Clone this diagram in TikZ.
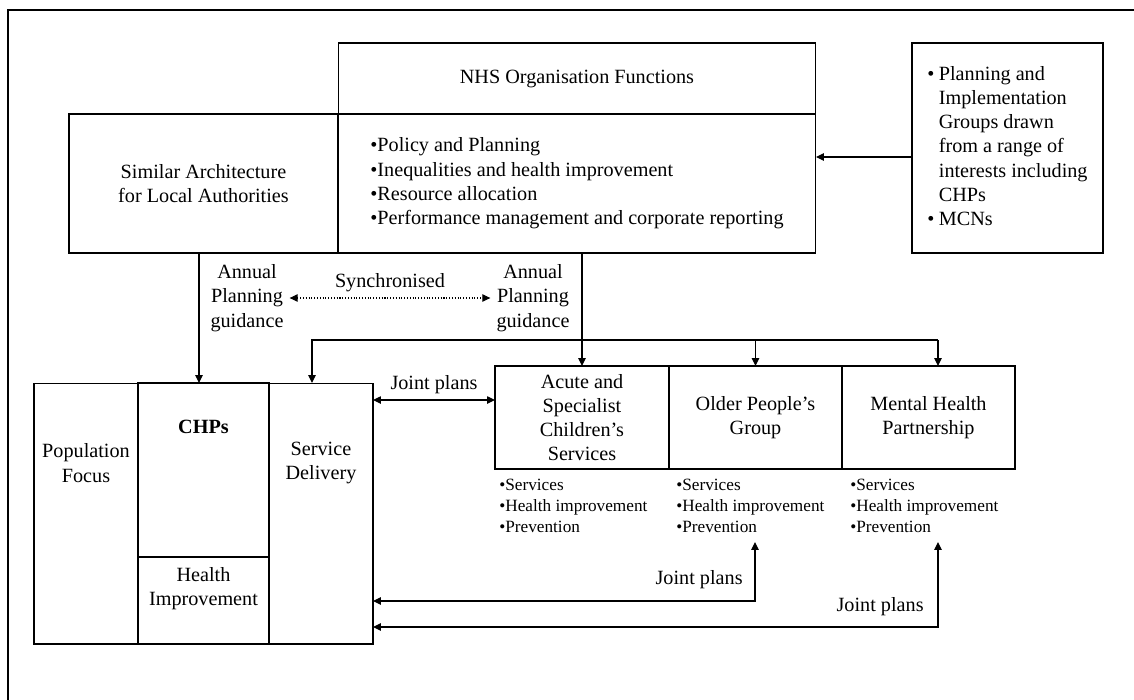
\documentclass[tikz,border=0pt]{standalone}
\usepackage{fontspec}
\setmainfont{Liberation Serif}
\usetikzlibrary{arrows.meta}

\tikzset{
	box/.style={draw, line width=0.6pt, inner sep=0pt, outer sep=0pt},
	arrowto/.style={line width=0.6pt, -{Triangle[length=4.5pt,width=4.2pt]}},
	twoway/.style={line width=0.6pt, {Triangle[length=4.5pt,width=4.2pt]}-{Triangle[length=4.5pt,width=4.2pt]}},
	bullets/.style={font=\fontsize{9.8}{11.8}\selectfont, align=left, anchor=west, inner sep=0pt}
}

\begin{document}
\begin{tikzpicture}[x=0.02cm, y=-0.02cm, font=\fontsize{11.5}{13.8}\selectfont]
	\useasboundingbox (0,0) rectangle (1134,700);
	\draw[line width=1.7pt] (1134,10) -- (8,10) -- (8,700);
	% top row
	\node[box, minimum width=9.56cm, minimum height=1.42cm] (nhstitle) at (577,78.5) {NHS Organisation Functions};
	\node[box, align=left, minimum width=9.56cm, minimum height=2.78cm] (nhslist) at (577,183.5) {\textbullet Policy and Planning\\\textbullet Inequalities and health improvement\\\textbullet Resource allocation\\\textbullet Performance management and corporate reporting};
	\node[box, align=center, minimum width=5.38cm, minimum height=2.78cm] (sim) at (203.5,183.5) {Similar Architecture\\for Local Authorities};
	\node[box, minimum width=3.82cm, minimum height=4.2cm] (plan) at (1007.5,148) {\begin{tabular}{@{}l@{\hspace{2.5pt}}l@{}}\textbullet & Planning and\\ & Implementation\\ & Groups drawn\\ & from a range of\\ & interests including\\ & CHPs\\ \textbullet & MCNs\end{tabular}};
	\coordinate (planout) at ([yshift=-0.18cm]plan.west);
	\draw[arrowto] (planout) -- (planout -| nhslist.east);
	% guidance
	\node[align=center] (apgleft) at (247,298) {Annual\\Planning\\guidance};
	\node[align=center] (apgright) at (533,298) {Annual\\Planning\\guidance};
	\draw[twoway, densely dotted] (apgleft) -- node[above] (sync) {Synchronised} (apgright);
	% CHPs block
	\node[box, minimum width=2.08cm, minimum height=5.22cm] (pop) at (86,513.5) {};
	\node[box, minimum width=2.62cm, minimum height=3.48cm] (chps) at (203.5,470) {};
	\node[box, minimum width=2.62cm, minimum height=1.74cm] (hi) at (203.5,600.5) {};
	\node[box, minimum width=2.08cm, minimum height=5.22cm] (sd) at (321,513.5) {};
	\node[align=center] (poptext) at (86,463) {Population\\Focus};
	\node (chpstext) at (203.5,427) {\textbf{CHPs}};
	\node[align=center] (hitext) at (203.5,589) {Health\\Improvement};
	\node[align=center] (sdtext) at (321,463) {Service\\Delivery};
	% partnership groups
	\node[box, align=center, minimum width=3.48cm, minimum height=2.06cm] (acute) at (582,417.5) {Acute and\\Specialist\\Children's\\Services};
	\node[box, align=center, minimum width=3.46cm, minimum height=2.06cm] (older) at (755.5,417.5) {Older People's\\Group};
	\node[box, align=center, minimum width=3.46cm, minimum height=2.06cm] (mental) at (928.5,417.5) {Mental Health\\Partnership};
	\node[bullets] (acutelist) at (499,506) {\textbullet Services\\\textbullet Health improvement\\\textbullet Prevention};
	\node[bullets] (olderlist) at (676,506) {\textbullet Services\\\textbullet Health improvement\\\textbullet Prevention};
	\node[bullets] (mentallist) at (850,506) {\textbullet Services\\\textbullet Health improvement\\\textbullet Prevention};
	% connectors
	\draw[arrowto] ([xshift=-0.09cm]sim.south) -- ([xshift=-0.09cm]chps.north);
	\draw[arrowto] (acute.north |- nhslist.south) -- (acute.north);
	\coordinate (busleft) at (312,340);
	\coordinate (busright) at (938,340);
	\draw[arrowto] (busright) -- (busleft) -- (busleft |- sd.north);
	\draw[arrowto] (older.north |- busright) -- (older.north);
	\draw[arrowto] (busright) -- (busright |- mental.north);
	\coordinate (jptop) at ([yshift=-0.34cm]sd.north east);
	\draw[twoway] (jptop) -- node[above] (jplabel) {Joint plans} (jptop -| acute.west);
	\coordinate (olderjp) at (755,542);
	\coordinate (olderturn) at (755,601);
	\coordinate (mentaljp) at (938,542);
	\coordinate (mentalturn) at (938,627);
	\draw[twoway] (olderjp) -- node[pos=0.64, left, xshift=-0.12cm] (olderjplabel) {Joint plans} (olderturn) -- (olderturn -| sd.east);
	\draw[twoway] (mentaljp) -- node[pos=0.76, left, xshift=-0.16cm] (mentaljplabel) {Joint plans} (mentalturn) -- (mentalturn -| sd.east);
\end{tikzpicture}
\end{document}
